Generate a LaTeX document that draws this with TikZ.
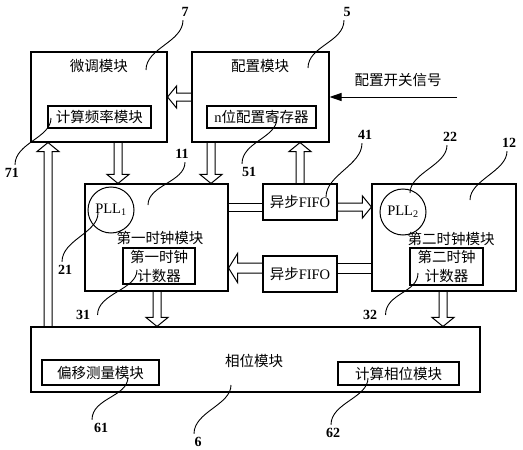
\documentclass[tikz,border=0pt]{standalone}
\usepackage{fontspec}
\setmainfont{Liberation Serif}
\newfontfamily\cjk{Noto Sans CJK SC}
\usetikzlibrary{calc,arrows.meta}

% hollow block arrow: shaft half width, head half width, from, to
\newcommand{\hollowarrow}[4]{%
  \path (#3) coordinate (ha-s) (#4) coordinate (ha-t);
  \path ($(ha-t)!9pt!(ha-s)$) coordinate (ha-h);
  \draw[line width=1pt] ($(ha-s)!#1!90:(ha-t)$) -- ($(ha-h)!#1!90:(ha-t)$) -- ($(ha-h)!#2!90:(ha-t)$)
    -- (ha-t) -- ($(ha-h)!#2!-90:(ha-t)$) -- ($(ha-h)!#1!-90:(ha-t)$) -- ($(ha-s)!#1!-90:(ha-t)$);
}

\begin{document}
\begin{tikzpicture}[x=1pt,y=-1pt,
  box/.style={draw,line width=1.1pt,inner sep=0pt},
  txt/.style={font=\fontsize{14.5}{19}\selectfont},
  cn/.style={font=\cjk\fontsize{14.5}{19}\selectfont},
  num/.style={font=\bfseries\fontsize{14}{14}\selectfont},
  lead/.style={line width=0.9pt}]
\useasboundingbox (0,0) rectangle (523,450);

% upper modules
\node[box,minimum width=136pt,minimum height=90pt] (micro) at (99,97) {};
\node[cn] at (99,66) {微调模块};
\node[box,cn,minimum width=103pt,minimum height=22pt] (freq) at (99.5,117) {计算频率模块};
\node[box,minimum width=137pt,minimum height=90pt] (cfg) at (260.5,97) {};
\node[cn] at (260,66) {配置模块};
\node[box,txt,minimum width=109pt,minimum height=22pt] (reg) at (261.5,117) {n\cjk 位配置寄存器};
\node[cn] (sigtxt) at (398,80) {配置开关信号};
\coordinate (sig) at (457,97);

% clock modules
\node[box,minimum width=143pt,minimum height=107pt] (clk1) at (156.5,237.5) {};
\node[cn] at (160,238) {第一时钟模块};
\node[box,cn,align=center,minimum width=72pt,minimum height=36pt] (cnt1) at (159,266) {第一时钟\\计数器};
\node[draw,circle,line width=1pt,minimum size=46pt,inner sep=0pt,txt] (pll1) at (111,210) {PLL\textsubscript{1}};
\node[box,minimum width=144pt,minimum height=107pt] (clk2) at (444,237.5) {};
\node[cn] at (451,239) {第二时钟模块};
\node[box,cn,align=center,minimum width=73pt,minimum height=37pt] (cnt2) at (446.5,266.5) {第二时钟\\计数器};
\node[draw,circle,line width=1pt,minimum size=46pt,inner sep=0pt,txt] (pll2) at (403,212) {PLL\textsubscript{2}};

% fifos
\node[box,txt,minimum width=74pt,minimum height=36pt] (fifoa) at (300,202) {{\cjk 异步}FIFO};
\node[box,txt,minimum width=74pt,minimum height=36pt] (fifob) at (300,274) {{\cjk 异步}FIFO};

% phase module
\node[box,minimum width=449pt,minimum height=65pt] (phase) at (255.5,359.5) {};
\node[cn] at (254,361) {相位模块};
\node[box,cn,minimum width=117pt,minimum height=25pt] (offs) at (100.5,372.5) {偏移测量模块};
\node[box,cn,minimum width=121pt,minimum height=23pt] (calc) at (398.5,373.5) {计算相位模块};

% arrows
\draw[line width=1pt,-{Triangle[length=12pt,width=8pt]}] (sig) -- (cfg.east);
\hollowarrow{4pt}{11pt}{cfg.west}{micro.east}
\hollowarrow{4pt}{11pt}{118,0 |- micro.south}{118,0 |- clk1.north}
\hollowarrow{4pt}{11pt}{211,0 |- cfg.south}{211,0 |- clk1.north}
\hollowarrow{4pt}{11pt}{fifoa.north}{fifoa.north |- cfg.south}
\hollowarrow{4pt}{11pt}{48,0 |- phase.north}{48,0 |- micro.south}
\hollowarrow{4pt}{11pt}{157,0 |- clk1.south}{157,0 |- phase.north}
\hollowarrow{4pt}{11pt}{443,0 |- clk2.south}{443,0 |- phase.north}
\draw[double,double distance=7pt,line width=1pt] (clk1.east |- 0,207) -- (fifoa.west |- 0,207);
\hollowarrow{4pt}{11pt}{fifoa.east |- 0,207}{clk2.west |- 0,207}
\draw[double,double distance=9pt,line width=1pt] (clk2.west |- 0,268) -- (fifob.east |- 0,268);
\hollowarrow{5pt}{14.5pt}{fifob.west |- 0,268}{clk1.east |- 0,268}

% reference numbers
\node[num] (n7) at (185,12) {7};
\node[num] (n5) at (347,12) {5};
\node[num] (n71) at (12,173) {71};
\node[num] (n51) at (249,172) {51};
\node[num] (n11) at (182,154) {11};
\node[num] (n41) at (365,135) {41};
\node[num] (n22) at (450,137) {22};
\node[num] (n12) at (509,143) {12};
\node[num] (n21) at (65,270) {21};
\node[num] (n31) at (83,315) {31};
\node[num] (n32) at (370,315) {32};
\node[num] (n61) at (101,428) {61};
\node[num] (n6) at (198,442) {6};
\node[num] (n62) at (333,433) {62};

\coordinate (e7) at (146,70);
\coordinate (e5) at (308,68);
\coordinate (e71) at (51,118);
\coordinate (e51) at (277,118);
\coordinate (e11) at (148,205);
\coordinate (e41) at (326,197);
\coordinate (e22) at (410,193);
\coordinate (e12) at (470,200);
\coordinate (e21) at (98,213);
\coordinate (e31) at (137,270);
\coordinate (e32) at (418,273);
\coordinate (e61) at (128,377);
\coordinate (e6) at (231,385);
\coordinate (e62) at (368,378);

% leaders
\draw[lead] ([xshift=-2pt]n7.south) .. controls +(0,22) and +(0,-22) .. (e7);
\draw[lead] ([xshift=-3pt]n5.south) .. controls +(0,22) and +(0,-22) .. (e5);
\draw[lead] ([xshift=3pt]n11.south) .. controls +(0,20) and +(0,-20) .. (e11);
\draw[lead] ([xshift=-3pt]n41.south) .. controls +(0,22) and +(0,-22) .. (e41);
\draw[lead] ([xshift=-3pt]n22.south) .. controls +(0,20) and +(0,-20) .. (e22);
\draw[lead] ([xshift=-2pt]n12.south) .. controls +(0,20) and +(0,-20) .. (e12);
\draw[lead] ([xshift=3pt]n71.north) .. controls +(0,-22) and +(0,20) .. (e71);
\draw[lead] ([xshift=-7pt]n51.north) .. controls +(0,-22) and +(0,20) .. (e51);
\draw[lead] ([xshift=-3pt]n21.north) .. controls +(0,-22) and +(0,20) .. (e21);
\draw[lead] ([xshift=4pt]n31.east) .. controls +(0,-22) and +(0,20) .. (e31);
\draw[lead] ([xshift=5pt]n32.east) .. controls +(0,-22) and +(0,20) .. (e32);
\draw[lead] ([xshift=-9pt]n61.north) .. controls +(0,-22) and +(0,20) .. (e61);
\draw[lead] ([xshift=-4pt]n6.north) .. controls +(0,-22) and +(0,20) .. (e6);
\draw[lead] ([xshift=-2pt]n62.north) .. controls +(0,-22) and +(0,20) .. (e62);
\end{tikzpicture}
\end{document}
